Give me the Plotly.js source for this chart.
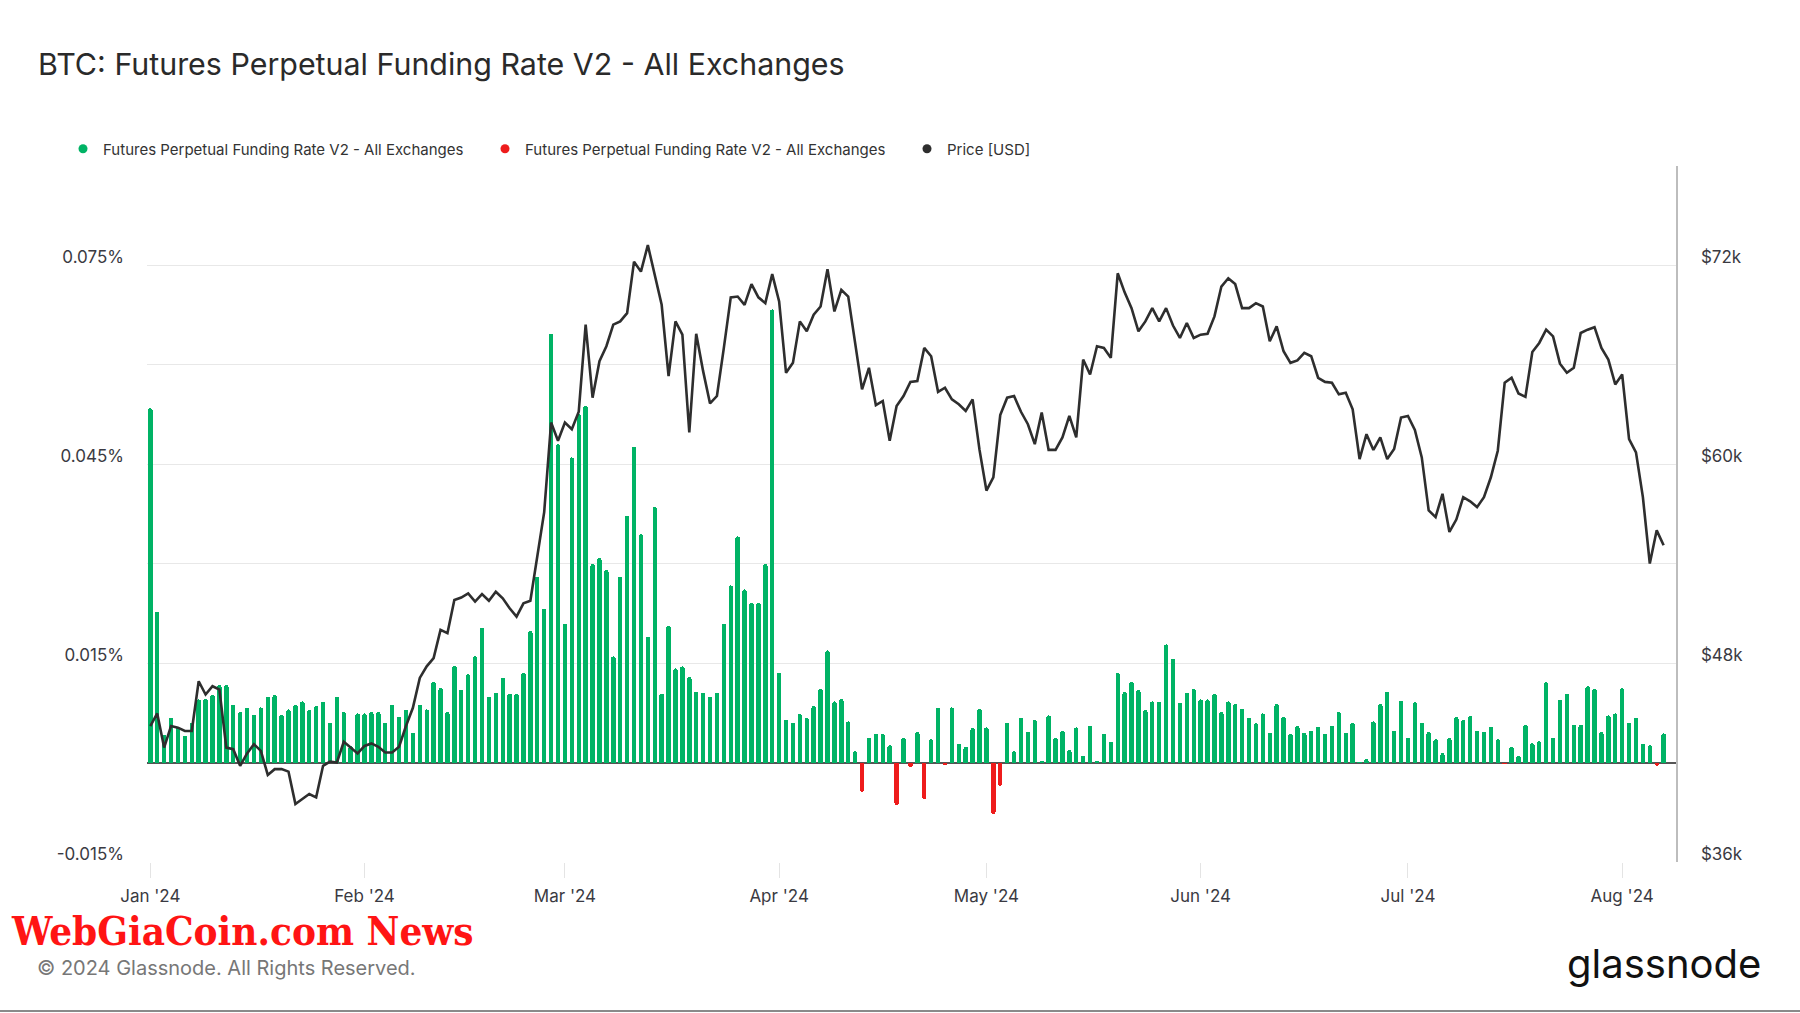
<!DOCTYPE html>
<html>
<head>
<meta charset="utf-8">
<script src="https://cdn.plot.ly/plotly-3.0.1.min.js"></script>
<style>
  html, body { margin: 0; padding: 0; background: #ffffff; }
  #chart { width: 1800px; height: 1013px; }
</style>
</head>
<body>
<div id="chart"></div>
<script>
// ---- Funding rate (%), one value per day ----
const fundingJan = [0.0534,0.0227,0.0042,0.0067,0.0052,0.0040,0.0060,0.0095,0.0096,0.0102,0.0117,0.0117,0.0087,0.0076,0.0083,0.0072,0.0083,0.0099,0.0102,0.0072,0.0080,0.0087,0.0092,0.0079,0.0085,0.0092,0.0060,0.0099,0.0076,0.0025,0.0074];
const fundingFeb = [0.0074,0.0076,0.0076,0.0060,0.0087,0.0069,0.0080,0.0045,0.0087,0.0080,0.0122,0.0112,0.0076,0.0146,0.0110,0.0133,0.0160,0.0203,0.0099,0.0105,0.0128,0.0104,0.0104,0.0135,0.0198,0.0280,0.0232,0.0646,0.0480];
const fundingMar = [0.0209,0.0460,0.0525,0.0538,0.0299,0.0308,0.0290,0.0160,0.0280,0.0372,0.0476,0.0344,0.0190,0.0385,0.0104,0.0206,0.0142,0.0145,0.0129,0.0107,0.0105,0.0099,0.0105,0.0209,0.0267,0.0341,0.0261,0.0241,0.0241,0.0299,0.0683];
const fundingApr = [0.0135,0.0064,0.0060,0.0073,0.0067,0.0085,0.0111,0.0169,0.0092,0.0096,0.0062,0.0017,-0.0044,0.0037,0.0043,0.0043,0.0026,-0.0064,0.0037,-0.0007,0.0046,-0.0055,0.0035,0.0083,-0.0004,0.0083,0.0028,0.0024,0.0052,0.0081];
const fundingMay = [0.0053,-0.0078,-0.0035,0.0060,0.0017,0.0067,0.0046,0.0064,0.0003,0.0071,0.0037,0.0048,0.0019,0.0053,0.0010,0.0055,0.0002,0.0043,0.0031,0.0135,0.0106,0.0122,0.0109,0.0079,0.0092,0.0092,0.0178,0.0156,0.0090,0.0105,0.0111];
const fundingJun = [0.0095,0.0095,0.0104,0.0076,0.0092,0.0088,0.0081,0.0067,0.0059,0.0074,0.0045,0.0088,0.0069,0.0043,0.0055,0.0045,0.0048,0.0054,0.0043,0.0055,0.0076,0.0045,0.0060,0.0001,0.0005,0.0062,0.0088,0.0107,0.0048,0.0093];
const fundingJul = [0.0037,0.0091,0.0060,0.0046,0.0035,0.0014,0.0037,0.0069,0.0064,0.0070,0.0048,0.0046,0.0054,0.0035,-0.0003,0.0024,0.0010,0.0057,0.0029,0.0032,0.0121,0.0037,0.0095,0.0104,0.0057,0.0057,0.0115,0.0111,0.0046,0.0071,0.0074];
const fundingAug = [0.0112,0.0060,0.0067,0.0028,0.0026,-0.0005,0.0044];

// ---- BTC price (thousand USD), one value per day ----
const priceJan = [44.2,44.96,42.9,44.2,44.1,43.9,43.9,46.9,46.1,46.6,46.4,42.9,42.8,41.8,42.55,43.1,42.7,41.25,41.6,41.6,41.45,39.5,39.8,40.1,39.9,41.8,42.05,42.0,43.25,42.9,42.55];
const priceFeb = [43.0,43.15,42.95,42.6,42.6,42.95,44.2,45.3,47.1,47.8,48.3,50.0,49.8,51.8,51.95,52.2,51.7,52.15,51.75,52.3,51.9,51.3,50.8,51.6,51.75,54.3,57.1,62.5,61.4];
const priceMar = [62.5,62.1,63.15,68.4,64.0,66.2,67.1,68.4,68.6,69.1,72.2,71.6,73.2,71.3,69.6,65.3,68.6,67.8,61.9,67.85,65.6,63.65,64.1,67.0,70.05,70.1,69.6,70.85,70.05,69.7,71.45];
const priceApr = [69.8,65.5,66.1,68.6,68.0,69.0,69.5,71.75,69.2,70.5,70.1,67.4,64.5,65.8,63.55,63.8,61.4,63.5,64.1,64.95,65.0,67.0,66.5,64.35,64.6,63.9,63.6,63.2,63.9,60.85];
const priceMay = [58.4,59.2,62.95,64.0,64.1,63.15,62.4,61.2,63.1,60.85,60.85,61.6,62.9,61.6,66.3,65.4,67.1,67.0,66.4,71.5,70.35,69.4,68.0,68.6,69.4,68.6,69.4,68.35,67.6,68.5,67.6];
const priceJun = [67.8,67.85,68.9,70.7,71.2,70.85,69.4,69.4,69.7,69.5,67.4,68.3,66.8,66.1,66.25,66.7,66.5,65.2,64.95,64.9,64.2,64.3,63.3,60.3,61.8,60.85,61.6,60.3,60.9,62.8];
const priceJul = [62.9,62.05,60.4,57.2,56.8,58.2,55.9,56.65,58.0,57.75,57.4,58.0,59.2,60.8,64.9,65.2,64.25,64.05,66.75,67.3,68.1,67.7,66.05,65.5,65.8,67.9,68.1,68.25,67.0,66.3,64.8];
const priceAug = [65.4,61.5,60.7,58.0,54.0,56.0,55.1];

const months = ['2024-01','2024-02','2024-03','2024-04','2024-05','2024-06','2024-07','2024-08'];
const fundingByMonth = [fundingJan,fundingFeb,fundingMar,fundingApr,fundingMay,fundingJun,fundingJul,fundingAug];
const priceByMonth = [priceJan,priceFeb,priceMar,priceApr,priceMay,priceJun,priceJul,priceAug];

const seriesName = 'Futures Perpetual Funding Rate V2 - All Exchanges';
const priceName = 'Price [USD]';
const yTickVals = [-0.015, 0, 0.015, 0.03, 0.045, 0.06, 0.075, 0.09];
const yTickText = ['-0.015%', '', '0.015%', '', '0.045%', '', '0.075%', ''];
const y2TickVals = [36, 48, 60, 72];
const y2TickText = ['$36k', '$48k', '$60k', '$72k'];

// build daily arrays
const dates = [], funding = [], price = [];
months.forEach((m, mi) => {
  fundingByMonth[mi].forEach((v, i) => {
    dates.push(m + '-' + String(i + 1).padStart(2, '0'));
    funding.push(v);
    price.push(priceByMonth[mi][i]);
  });
});

const GREEN = '#00b365';
const RED = '#ee1c1c';
const DARK = '#2e2e2e';
const DAY = 86400000;
const FONT = 'Inter, "Noto Sans", Roboto, sans-serif';
const TICKCOL = '#3a3a42';

const traces = [
  {
    type: 'bar', name: seriesName, x: dates,
    y: funding.map(v => v >= 0 ? v : null),
    marker: { color: GREEN, cornerradius: 2 },
    width: DAY * 0.64, showlegend: false, hoverinfo: 'x+y'
  },
  {
    type: 'bar', name: seriesName, x: dates,
    y: funding.map(v => v < 0 ? v : null),
    marker: { color: RED, cornerradius: 2 },
    width: DAY * 0.64, showlegend: false, hoverinfo: 'x+y'
  },
  {
    type: 'scatter', mode: 'lines', name: priceName, x: dates, y: price,
    yaxis: 'y2', line: { color: DARK, width: 2.6 }, showlegend: false
  },
  // legend entries (dots)
  { type: 'scatter', mode: 'markers', name: seriesName, x: [null], y: [null], marker: { color: GREEN, size: 9, symbol: 'circle' }, hoverinfo: 'skip' },
  { type: 'scatter', mode: 'markers', name: seriesName, x: [null], y: [null], marker: { color: RED, size: 9, symbol: 'circle' }, hoverinfo: 'skip' },
  { type: 'scatter', mode: 'markers', name: priceName, x: [null], y: [null], marker: { color: DARK, size: 9, symbol: 'circle' }, hoverinfo: 'skip' }
];

// plot area in px
const L = 147, R = 1676, T = 165, B = 862;
const W = R - L, H = B - T;
const px = v => (v - L) / W;
const py = v => (B - v) / H;

const layout = {
  width: 1800, height: 1013,
  paper_bgcolor: '#ffffff', plot_bgcolor: '#ffffff',
  margin: { l: L, r: 1800 - R, t: T, b: 1013 - B, pad: 0 },
  font: { family: FONT, color: '#333333', size: 15 },
  title: {
    text: 'BTC: Futures Perpetual Funding Rate V2 - All Exchanges',
    xref: 'container', yref: 'container',
    x: 38 / 1800, xanchor: 'left', y: 1 - 64 / 1013, yanchor: 'middle',
    font: { family: FONT, size: 30.4, color: '#2a2a2a' }
  },
  barmode: 'overlay',
  bargap: 0,
  showlegend: true,
  legend: {
    orientation: 'h', xref: 'container', yref: 'container',
    x: 63 / 1800, xanchor: 'left', y: 1 - 149 / 1013, yanchor: 'middle',
    font: { family: FONT, size: 15, color: '#333333' },
    entrywidth: 377, entrywidthmode: 'pixels',
    itemclick: false, itemdoubleclick: false, bgcolor: 'rgba(0,0,0,0)'
  },
  xaxis: {
    type: 'date',
    range: ['2023-12-31 12:30', '2024-08-08 19:00'],
    tick0: '2024-01-01', dtick: 'M1', tickformat: "%b '%y",
    ticks: 'outside', ticklen: 15, tickcolor: '#e4e4e4', tickwidth: 1,
    showgrid: false, showline: false, zeroline: false,
    tickfont: { family: FONT, size: 17, color: TICKCOL },
    ticklabelstandoff: 4, fixedrange: true
  },
  yaxis: {
    range: [-0.015, 0.09],
    tickvals: yTickVals, ticktext: yTickText,
    showgrid: true, gridcolor: '#e8e8e8', gridwidth: 1,
    zeroline: true, zerolinecolor: '#555555', zerolinewidth: 2,
    showline: false, ticks: '',
    ticklabelposition: 'outside', ticklabelstandoff: 22, ticklabelshift: -8,
    tickfont: { family: FONT, size: 17, color: TICKCOL },
    fixedrange: true
  },
  yaxis2: {
    overlaying: 'y', side: 'right',
    range: [36, 78],
    tickvals: y2TickVals, ticktext: y2TickText,
    showgrid: false, zeroline: false,
    showline: true, linecolor: '#bdbdbd', linewidth: 1.5,
    ticks: '', ticklabelposition: 'outside', ticklabelstandoff: 20, ticklabelshift: -8,
    tickfont: { family: FONT, size: 17, color: TICKCOL },
    fixedrange: true
  },
  annotations: [
    {
      text: 'WebGiaCoin.com News', xref: 'paper', yref: 'paper',
      x: px(9), y: py(931), xanchor: 'left', yanchor: 'middle', showarrow: false,
      font: { family: '"DejaVu Serif Condensed", "DejaVu Serif", serif', size: 40, color: '#ff1414', weight: 'bold' }
    },
    {
      text: '© 2024 Glassnode. All Rights Reserved.', xref: 'paper', yref: 'paper',
      x: px(35), y: py(968), xanchor: 'left', yanchor: 'middle', showarrow: false,
      font: { family: FONT, size: 20, color: '#777777' }
    },
    {
      text: 'glassnode', xref: 'paper', yref: 'paper',
      x: px(1763), y: py(964), xanchor: 'right', yanchor: 'middle', showarrow: false,
      font: { family: FONT, size: 40, color: '#111111' }
    }
  ],
  shapes: [
    {
      type: 'line', xref: 'paper', yref: 'paper',
      x0: px(0), x1: px(1800), y0: py(1011), y1: py(1011),
      line: { color: '#8a8a8a', width: 2 }
    }
  ]
};

Plotly.newPlot('chart', traces, layout, { displayModeBar: false, staticPlot: true });
</script>
</body>
</html>
